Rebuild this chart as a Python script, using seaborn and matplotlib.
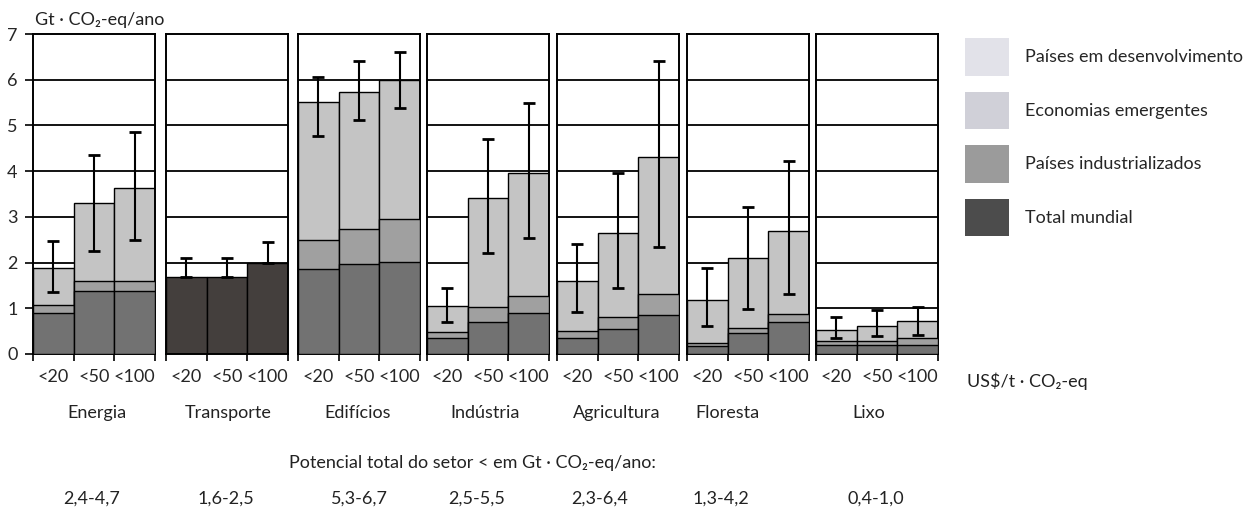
import matplotlib
matplotlib.use("Agg")
import matplotlib.pyplot as plt
import seaborn as sns
import pandas as pd
import numpy as np
from matplotlib.patches import Patch

# ---------------- data ----------------
price_labels = ["<20", "<50", "<100"]
sectors = ["Energia", "Transporte", "Edifícios", "Indústria", "Agricultura", "Floresta", "Lixo"]
sector_potential = ["2,4-4,7", "1,6-2,5", "5,3-6,7", "2,5-5,5", "2,3-6,4", "1,3-4,2", "0,4-1,0"]

# cumulative tops of the stacked segments (Gt CO2-eq/ano)
top_industrializados = {
    "Energia": [0.90, 1.37, 1.37],
    "Edifícios": [1.87, 1.96, 2.01],
    "Indústria": [0.36, 0.70, 0.90],
    "Agricultura": [0.36, 0.55, 0.85],
    "Floresta": [0.18, 0.47, 0.69],
    "Lixo": [0.19, 0.19, 0.19],
}
top_emergentes = {
    "Energia": [1.08, 1.59, 1.59],
    "Edifícios": [2.49, 2.73, 2.95],
    "Indústria": [0.48, 1.03, 1.26],
    "Agricultura": [0.50, 0.80, 1.31],
    "Floresta": [0.25, 0.56, 0.87],
    "Lixo": [0.28, 0.28, 0.34],
}
top_desenvolvimento = {
    "Energia": [1.88, 3.30, 3.63],
    "Edifícios": [5.52, 5.74, 6.0],
    "Indústria": [1.05, 3.42, 3.95],
    "Agricultura": [1.60, 2.65, 4.32],
    "Floresta": [1.18, 2.10, 2.70],
    "Lixo": [0.52, 0.62, 0.72],
}
total_mundial = {"Transporte": [1.68, 1.68, 1.99]}

err_low = {
    "Energia": [1.35, 2.25, 2.50],
    "Transporte": [1.68, 1.68, 1.99],
    "Edifícios": [4.77, 5.12, 5.39],
    "Indústria": [0.70, 2.20, 2.54],
    "Agricultura": [0.91, 1.45, 2.35],
    "Floresta": [0.61, 0.98, 1.31],
    "Lixo": [0.36, 0.39, 0.42],
}
err_high = {
    "Energia": [2.47, 4.36, 4.86],
    "Transporte": [2.10, 2.10, 2.45],
    "Edifícios": [6.05, 6.40, 6.60],
    "Indústria": [1.45, 4.70, 5.50],
    "Agricultura": [2.40, 3.95, 6.42],
    "Floresta": [1.88, 3.22, 4.22],
    "Lixo": [0.80, 0.96, 1.02],
}

legend_labels = ["Países em desenvolvimento", "Economias emergentes", "Países industrializados", "Total mundial"]

# ---------------- style ----------------
sns.set_theme(style="white")
plt.rcParams["font.family"] = ["Lato", "DejaVu Sans"]
FONT = 13

c_ind = "#727272"
c_eme = "#a0a0a0"
c_dev = "#c4c4c4"
c_tot = "#443f3d"
legend_colors = ["#e2e2e9", "#d0d0d8", "#9b9b9b", "#4c4c4c"]

W, H = 1248, 512
fig = plt.figure(figsize=(W / 100, H / 100), dpi=100)
fig.patch.set_facecolor("white")

y0_px, y7_px = 354, 34
panel_lefts = [33, 166, 298, 427, 557, 687, 816]
panel_w = 122

for i, sector in enumerate(sectors):
    left = panel_lefts[i]
    ax = fig.add_axes([left / W, 1 - y0_px / H, panel_w / W, (y0_px - y7_px) / H])
    ax.set_facecolor("white")
    for yg in range(1, 7):
        ax.axhline(yg, color="black", lw=1.3, zorder=0)

    if sector in total_mundial:
        layers = [(total_mundial[sector], c_tot)]
    else:
        layers = [(top_desenvolvimento[sector], c_dev),
                  (top_emergentes[sector], c_eme),
                  (top_industrializados[sector], c_ind)]
    for k, (vals, col) in enumerate(layers):
        df = pd.DataFrame({"preco": price_labels, "valor": vals})
        sns.barplot(data=df, x="preco", y="valor", order=price_labels, color=col,
                    width=1.0, edgecolor="black", linewidth=1.0, saturation=1,
                    ax=ax, zorder=2 + k, errorbar=None)

    xs = np.arange(len(price_labels))
    lo = np.array(err_low[sector])
    hi = np.array(err_high[sector])
    mid = (lo + hi) / 2
    ax.errorbar(xs, mid, yerr=(hi - lo) / 2, fmt="none", ecolor="black",
                elinewidth=1.5, capsize=4.5, capthick=2, zorder=10)

    ax.set_xlim(-0.5, 2.5)
    ax.set_ylim(0, 7)
    ax.set_xlabel("")
    ax.set_ylabel("")
    for sp in ax.spines.values():
        sp.set_visible(True)
        sp.set_color("black")
        sp.set_linewidth(1.4)
    # boundary ticks (major) and centred labels (minor)
    ax.set_xticks([-0.5, 0.5, 1.5, 2.5])
    ax.set_xticklabels([])
    ax.set_xticks(xs, minor=True)
    ax.set_xticklabels(price_labels, minor=True, fontsize=FONT)
    ax.tick_params(axis="x", which="major", direction="out", length=5, width=1.2,
                   color="black", bottom=True)
    ax.tick_params(axis="x", which="minor", length=0, pad=11)
    if i == 0:
        ax.set_yticks(range(0, 8))
        ax.set_yticklabels([str(v) for v in range(0, 8)], fontsize=FONT)
        ax.tick_params(axis="y", direction="out", length=6, width=1.2, color="black",
                       left=True, pad=5)
    else:
        ax.set_yticks([])

# ---------------- texts ----------------
def ft(x, y, s, ha="left", size=FONT):
    fig.text(x / W, 1 - y / H, s, ha=ha, va="center", fontsize=size, color="#222222")

ft(35, 20, "Gt · CO₂-eq/ano")
ft(967, 381, "US$/t · CO₂-eq")

name_x = [97, 228, 358, 485, 617, 727, 869]
for s, xc in zip(sectors, name_x):
    ft(xc, 413, s, ha="center")

ft(289, 463, "Potencial total do setor < em Gt · CO₂-eq/ano:", ha="left")
pot_x = [92, 226, 359, 477, 600, 721, 876]
for s, xc in zip(sector_potential, pot_x):
    ft(xc, 499, s, ha="center")

# ---------------- legend ----------------
handles = [Patch(facecolor=c, edgecolor="none") for c in legend_colors]
fig.legend(handles, legend_labels, loc="upper left", bbox_to_anchor=(958 / W, 1 - 31 / H),
           frameon=False, fontsize=FONT, handlelength=2.4, handleheight=2.8,
           labelspacing=0.9, handletextpad=0.9, borderaxespad=0)

fig.savefig("out.png", dpi=100, facecolor="white")
